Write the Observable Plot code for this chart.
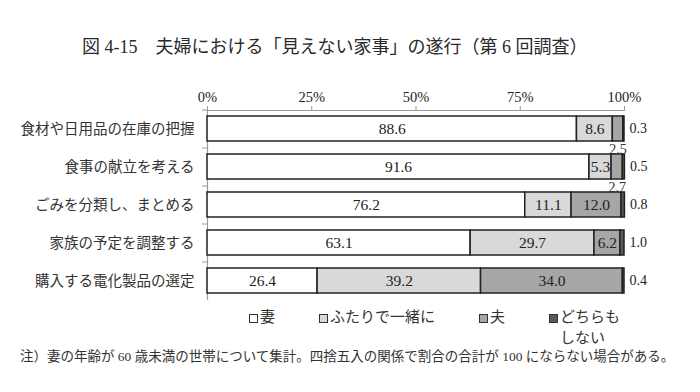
<!DOCTYPE html>
<html><head><meta charset="utf-8">
<script src="https://cdn.jsdelivr.net/npm/d3@7"></script>
<script src="https://cdn.jsdelivr.net/npm/@observablehq/plot@0.6"></script>
<style>
  body { margin:0; background:#fff; width:700px; height:392px; overflow:hidden;
    font-family: "Liberation Serif","DejaVu Serif","Noto Sans CJK JP",serif; color:#333; }
  #title { height:70px; box-sizing:border-box; padding-top:36px; padding-left:82px;
    font-size:18px; line-height:22px; white-space:nowrap; color:#2a2a2a; }
  #chart { height:236px; }
  #legend { position:relative; height:41px; font-size:15px; line-height:21px; }
  .item { position:absolute; top:1px; display:flex; align-items:flex-start; }
  .sw { display:inline-block; width:7px; height:7px; border:1px solid #333; margin-top:6.5px; margin-right:2px; }
  #note { padding-left:20px; font-size:13.5px; line-height:20px; white-space:nowrap; }
</style></head>
<body>
<div id="title">図 4‐15　夫婦における「見えない家事」の遂行（第 6 回調査）</div>
<div id="chart"></div>
<div id="legend"></div>
<div id="note">注）妻の年齢が 60 歳未満の世帯について集計。四捨五入の関係で割合の合計が 100 にならない場合がある。</div>
<script>
const categories = ["食材や日用品の在庫の把握","食事の献立を考える","ごみを分類し、まとめる","家族の予定を調整する","購入する電化製品の選定"];
const seriesNames = ["妻","ふたりで一緒に","夫","どちらもしない"];
const legendLabels = ["妻","ふたりで一緒に","夫","どちらも<br>しない"];
const seriesColors = ["#ffffff","#d9d9d9","#a6a6a6","#595959"];
const wife     = [88.6, 91.6, 76.2, 63.1, 26.4];
const together = [8.6, 5.3, 11.1, 29.7, 39.2];
const husband  = [2.5, 2.7, 12.0, 6.2, 34.0];
const neither  = [0.3, 0.5, 0.8, 1.0, 0.4];
const xTicks = [0, 25, 50, 75, 100];
const legendX = [249, 319, 479, 549];

const seriesValues = [wife, together, husband, neither];
const data = [];
seriesValues.forEach((vals, si) => vals.forEach((v, ci) =>
  data.push({cat: categories[ci], series: seriesNames[si], si, value: v})));

const fmt = v => v.toFixed(1);
const insideText = d => (d.si < 3 && d.value >= 5) ? fmt(d.value) : null;
const belowText = d => (d.si === 2 && d.value < 5) ? fmt(d.value) : null;
const rightText = d => (d.si === 3) ? fmt(d.value) : null;

const plot = Plot.plot({
  width: 700, height: 236,
  marginTop: 40, marginBottom: 6, marginLeft: 207, marginRight: 76,
  style: {fontFamily: '"Liberation Serif","DejaVu Serif","Noto Sans CJK JP",serif', fontSize: "14px", color: "#222", background: "transparent"},
  x: {domain: [0, 100], label: null},
  y: {domain: categories, paddingInner: 0.34, paddingOuter: 0.17, label: null},
  color: {domain: seriesNames, range: seriesColors},
  marks: [
    Plot.frame({anchor: "top", stroke: "#9a9a9a", strokeWidth: 1.2}),
    Plot.ruleX([0], {stroke: "#9a9a9a", strokeWidth: 1.2}),
    Plot.axisX({anchor: "top", ticks: xTicks, tickFormat: d => d + "%", tickSize: 5, tickPadding: 4,
      stroke: "#9a9a9a", fill: "#222", fontSize: 14.5, label: null}),
    Plot.axisY({tickSize: 0, tickPadding: 13, fontSize: 14.5, fill: "#333", label: null}),
    Plot.axisY({tickSize: 5, text: null, dy: -19, stroke: "#9a9a9a", label: null}),
    Plot.barX(data, Plot.stackX({x: "value", y: "cat", z: "series", fill: "series", stroke: "#222", strokeWidth: 1.5})),
    Plot.text(data, Plot.stackX({x: "value", y: "cat", z: "series", text: insideText, fontSize: 15.5, fill: "#222"})),
    Plot.text(data, Plot.stackX({x: "value", y: "cat", z: "series", text: belowText, dy: 21, fontSize: 14, fill: "#333"})),
    Plot.text(data, Plot.stackX2({x: "value", y: "cat", z: "series", text: rightText, dx: 5, textAnchor: "start", fontSize: 14, fill: "#222"}))
  ]
});
document.getElementById("chart").appendChild(plot);

const legend = document.getElementById("legend");
seriesNames.forEach((s, i) => {
  const it = document.createElement("div");
  it.className = "item";
  it.style.left = legendX[i] + "px";
  it.innerHTML = `<span class="sw" style="background:${seriesColors[i]}"></span><span>${legendLabels[i]}</span>`;
  legend.appendChild(it);
});
</script>
</body></html>
